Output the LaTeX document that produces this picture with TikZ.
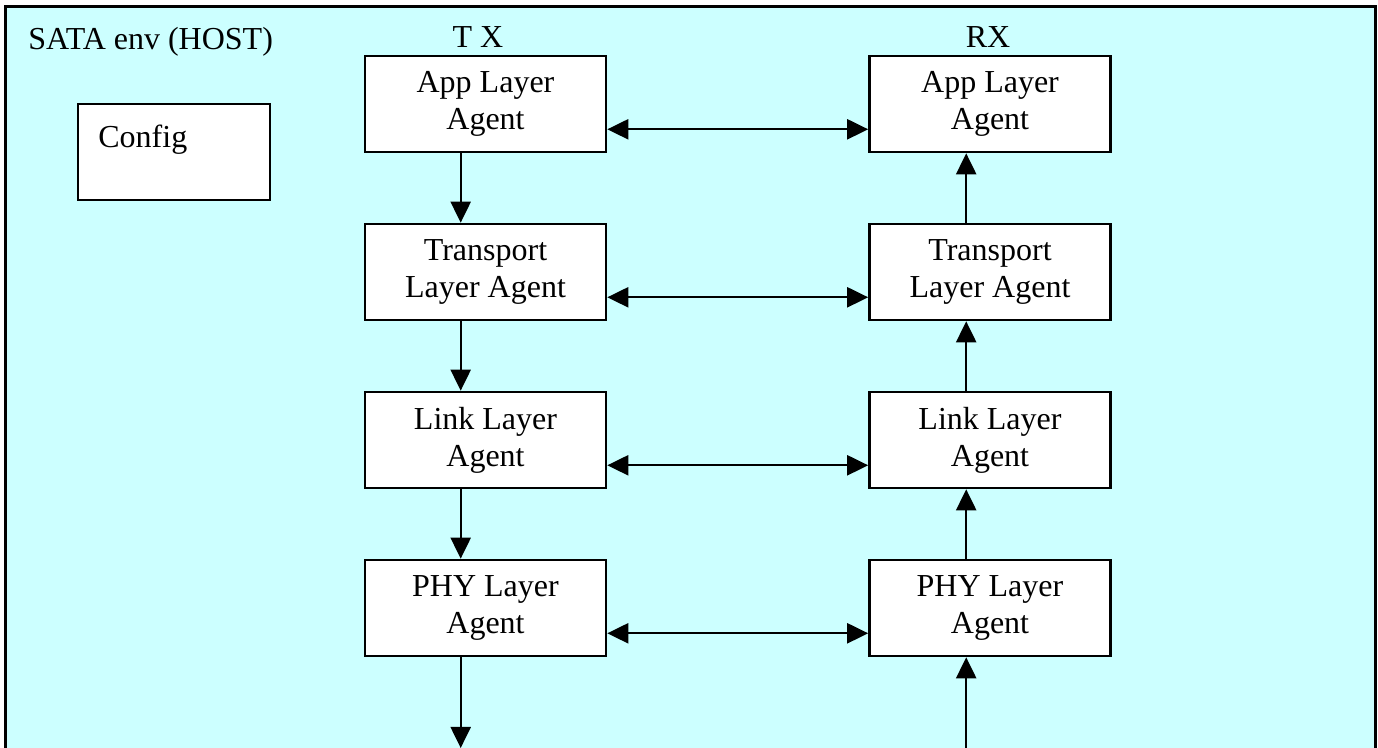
\documentclass[tikz,border=0pt]{standalone}
\usepackage{fontspec}
\setmainfont{Liberation Serif}
\usetikzlibrary{arrows.meta}
\definecolor{envbg}{HTML}{CCFFFF}
\begin{document}
\begin{tikzpicture}[x=0.5pt,y=-0.5pt,
  txtfont/.style={font=\fontsize{16}{18.5}\selectfont},
  agent/.style={draw, line width=1.3pt, fill=white, minimum width=120.5pt, minimum height=48pt, inner sep=0pt, align=center, txtfont},
  flow/.style={line width=1.1pt, -{Triangle[length=10.5pt,width=10pt]}},
  both/.style={line width=1.1pt, {Triangle[length=10.5pt,width=10pt]}-{Triangle[length=10.5pt,width=10pt]}},
  lbl/.style={inner sep=0pt, txtfont}]
\useasboundingbox (0,0) rectangle (1378,748);
\fill[envbg] (5,7) rectangle (1375,748);
\draw[line width=1.5pt] (5,748) -- (5,7) -- (1375,7) -- (1375,748);

\node[lbl, anchor=base west] (title) at (28,50) {SATA env (HOST)};
\node[lbl, anchor=base] (txl) at (478,48) {T X};
\node[lbl, anchor=base] (rxl) at (988,48) {RX};

\node[draw, line width=1.3pt, fill=white, minimum width=96pt, minimum height=48pt, inner sep=0pt] (config) at (174,152) {};
\node[lbl, anchor=base west] (configtxt) at (98,148) {Config};

\node[agent] (tx1) at (485.5,104) {App Layer\\Agent};
\node[agent] (tx2) at (485.5,272) {Transport\\Layer Agent};
\node[agent] (tx3) at (485.5,440) {Link Layer\\Agent};
\node[agent] (tx4) at (485.5,608) {PHY Layer\\Agent};

\node[agent] (rx1) at (990,104) {App Layer\\Agent};
\node[agent] (rx2) at (990,272) {Transport\\Layer Agent};
\node[agent] (rx3) at (990,440) {Link Layer\\Agent};
\node[agent] (rx4) at (990,608) {PHY Layer\\Agent};

\coordinate (txend) at ([xshift=48.5pt]tx4.south west |- 0,748);
\coordinate (rxstart) at ([xshift=49pt]rx4.south west |- 0,748);

\foreach \i in {1,2,3,4}{
  \draw[both] ([yshift=12pt]tx\i.south east) -- ([yshift=12pt]rx\i.south west);
}
\foreach \i/\j in {1/2,2/3,3/4}{
  \draw[flow] ([xshift=48.5pt]tx\i.south west) -- ([xshift=48.5pt]tx\j.north west);
  \draw[flow] ([xshift=49pt]rx\j.north west) -- ([xshift=49pt]rx\i.south west);
}
\draw[flow] ([xshift=48.5pt]tx4.south west) -- (txend);
\draw[flow] (rxstart) -- ([xshift=49pt]rx4.south west);
\end{tikzpicture}
\end{document}
